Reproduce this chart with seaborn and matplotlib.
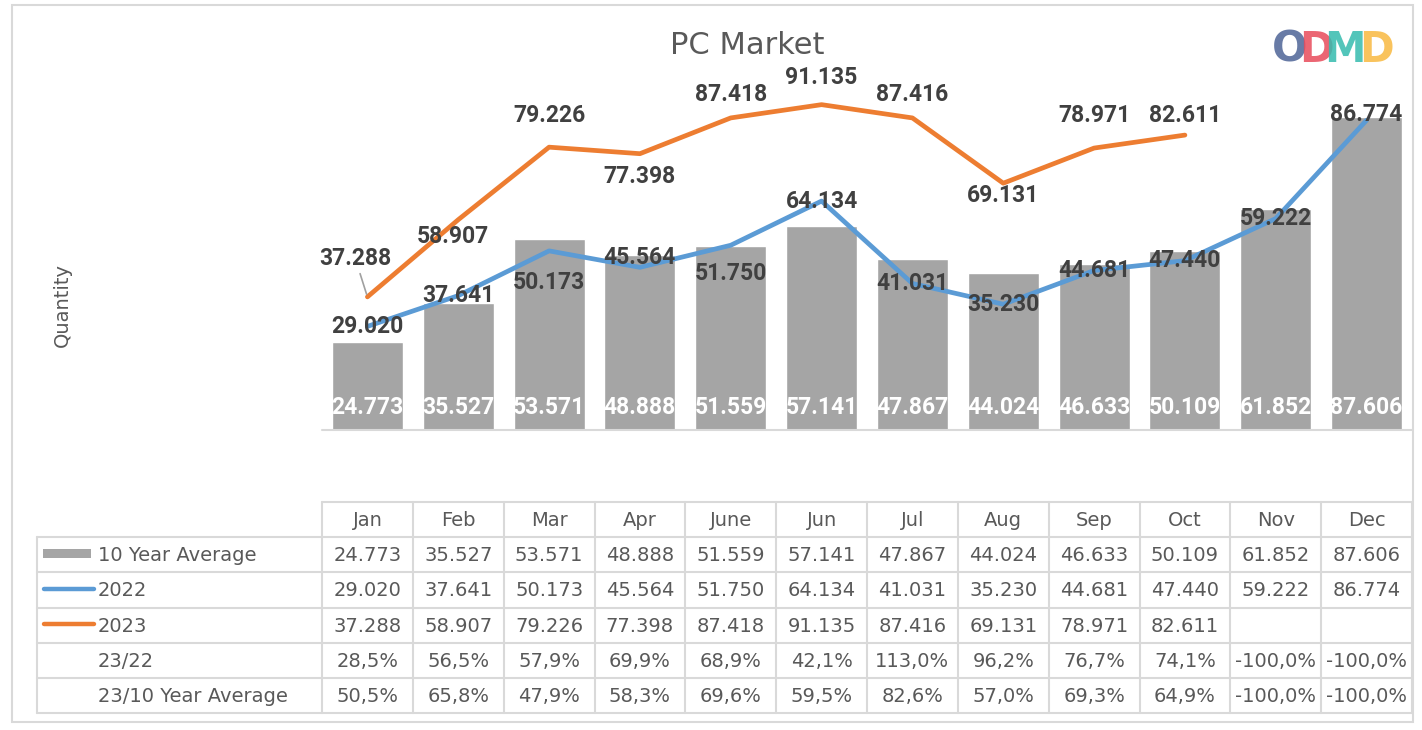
import numpy as np
import pandas as pd
import matplotlib.pyplot as plt
import seaborn as sns

months = ['Jan', 'Feb', 'Mar', 'Apr', 'June', 'Jun', 'Jul', 'Aug', 'Sep', 'Oct', 'Nov', 'Dec']
avg_10y = [24.773, 35.527, 53.571, 48.888, 51.559, 57.141, 47.867, 44.024, 46.633, 50.109, 61.852, 87.606]
y2022 = [29.020, 37.641, 50.173, 45.564, 51.750, 64.134, 41.031, 35.230, 44.681, 47.440, 59.222, 86.774]
y2023 = [37.288, 58.907, 79.226, 77.398, 87.418, 91.135, 87.416, 69.131, 78.971, 82.611, np.nan, np.nan]
pct_23_22 = ['28,5%', '56,5%', '57,9%', '69,9%', '68,9%', '42,1%', '113,0%', '96,2%', '76,7%', '74,1%', '-100,0%', '-100,0%']
pct_23_avg = ['50,5%', '65,8%', '47,9%', '58,3%', '69,6%', '59,5%', '82,6%', '57,0%', '69,3%', '64,9%', '-100,0%', '-100,0%']
row_names = ['10 Year Average', '2022', '2023', '23/22', '23/10 Year Average']

# label offsets in pixels (styling only)
off_2023 = [(-12, 38), (-5, -17), (0, 32), (0, -23), (0, 23), (0, 27), (0, 23), (0, -12), (0, 33), (0, 20)]
off_2022 = [0, 0, -32, 10, -28, 0, 0, 0, 0, 0, 0, 6]

GREY = '#A5A5A5'
BLUE = '#5B9BD5'
ORANGE = '#ED7D31'
TXT = '#595959'
LBL = '#404040'
GRID = '#D9D9D9'

sns.set_theme(style='white')
plt.rcParams['font.family'] = ['DejaVu Sans']

W, H = 1422, 730
fig = plt.figure(figsize=(W / 100, H / 100), dpi=100)

df = pd.DataFrame({'pos': np.arange(len(months)), 'month': months,
                   'avg': avg_10y, 'y2022': y2022, 'y2023': y2023})

ax = fig.add_axes([322 / W, 1 - 430 / H, 1090 / W, 357 / H])
sns.barplot(data=df, x='pos', y='avg', color=GREY, saturation=1, width=0.78, ax=ax)
sns.lineplot(data=df, x='pos', y='y2022', color=BLUE, lw=3.4, ax=ax, sort=False)
sns.lineplot(data=df.dropna(), x='pos', y='y2023', color=ORANGE, lw=3.4, ax=ax, sort=False)
ax.set_xlim(-0.5, len(months) - 0.5)
ax.set_ylim(0, 100)
ax.axis('off')
ax.axhline(0, color=GRID, lw=1.5, clip_on=False)

lab_font = dict(family=['Roboto', 'DejaVu Sans'], fontsize=16.5, fontweight='bold')
for i, v in enumerate(avg_10y):
    ax.annotate(f'{v:.3f}', (i, 0), xytext=(0, 23), textcoords='offset pixels',
                ha='center', va='center', color='white', **lab_font)
for i, v in enumerate(y2022):
    ax.annotate(f'{v:.3f}', (i, v), xytext=(0, off_2022[i]), textcoords='offset pixels',
                ha='center', va='center', color=LBL, **lab_font)
for i, v in enumerate(y2023):
    if np.isnan(v):
        continue
    arrow = dict(arrowstyle='-', color='#A0A0A0', lw=1.2, shrinkA=0, shrinkB=2) if i == 0 else None
    ax.annotate(f'{v:.3f}', (i, v), xytext=off_2023[i], textcoords='offset pixels',
                ha='center', va='center', color=LBL, arrowprops=arrow, **lab_font)

# table and decorations in pixel coordinates
tab = fig.add_axes([0, 0, 1, 1])
tab.set_xlim(0, W)
tab.set_ylim(H, 0)
tab.axis('off')

tab.add_patch(plt.Rectangle((12, 5), 1401, 717, fill=False, ec=GRID, lw=1.5))

x0, x1, xl = 322, 1412, 37
cw = (x1 - x0) / len(months)
rows_y = [502, 537, 572, 608, 643, 678, 713]
tab.plot([x0, x1], [rows_y[0], rows_y[0]], color=GRID, lw=1.5)
for y in rows_y[1:]:
    tab.plot([xl, x1], [y, y], color=GRID, lw=1.5)
for j in range(len(months) + 1):
    tab.plot([x0 + j * cw] * 2, [rows_y[0], rows_y[-1]], color=GRID, lw=1.5)
tab.plot([xl, xl], [rows_y[1], rows_y[-1]], color=GRID, lw=1.5)

cell_font = dict(fontsize=14, color=TXT, ha='center', va='center')
for j, m in enumerate(months):
    cx = x0 + (j + 0.5) * cw
    tab.text(cx, (rows_y[0] + rows_y[1]) / 2 + 1, m, **cell_font)
    cols = [f'{avg_10y[j]:.3f}', f'{y2022[j]:.3f}',
            '' if np.isnan(y2023[j]) else f'{y2023[j]:.3f}', pct_23_22[j], pct_23_avg[j]]
    for r, s in enumerate(cols):
        tab.text(cx, (rows_y[r + 1] + rows_y[r + 2]) / 2 + 1, s, **cell_font)

for r, name in enumerate(row_names):
    tab.text(98, (rows_y[r + 1] + rows_y[r + 2]) / 2 + 1, name, fontsize=14, color=TXT,
             ha='left', va='center')
tab.add_patch(plt.Rectangle((43, 549), 48, 9, color=GREY, lw=0))
tab.plot([44, 94], [589, 589], color=BLUE, lw=3.2, solid_capstyle='round')
tab.plot([44, 94], [624, 624], color=ORANGE, lw=3.2, solid_capstyle='round')

tab.text(747, 46, 'PC Market', fontsize=22, color=TXT, ha='center', va='center')
tab.text(62, 305, 'Quantity', fontsize=14, color=TXT, rotation=90, ha='center', va='center')

for ch, cx, col in [('O', 1290, '#4E6497'), ('D', 1316, '#E84B5B'),
                    ('M', 1345, '#35BBAE'), ('D', 1376, '#F8B940')]:
    tab.text(cx, 50, ch, fontsize=30, fontweight='bold', color=col, alpha=0.85,
             ha='center', va='center', family=['DejaVu Sans'])

fig.savefig('out.png', dpi=100)
